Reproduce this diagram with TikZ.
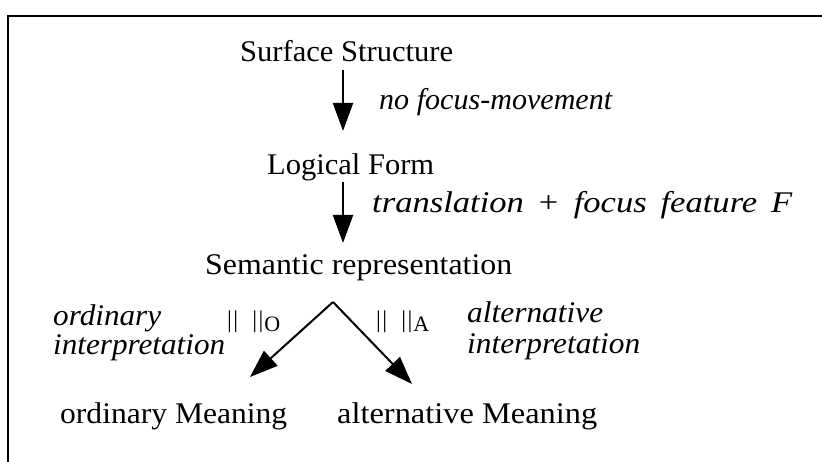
\documentclass[tikz,border=0pt]{standalone}
\usepackage{fontspec}
\setmainfont{Liberation Serif}
\usetikzlibrary{arrows.meta}
\tikzset{
  lbl/.style={inner sep=0pt, anchor=base west, font=\fontsize{30}{36}\selectfont},
  ilbl/.style={inner sep=0pt, anchor=base west, font=\fontsize{30}{36}\selectfont\itshape},
  nrm/.style={inner sep=0pt, anchor=base west, font=\fontsize{24}{28}\selectfont},
  arr/.style={line width=2pt, -{Triangle[width=20pt,length=28pt]}},
  frame/.style={line width=2pt}
}
\newcommand{\hfit}[2]{\resizebox{#1}{\height}{#2}}
\newcommand{\normbar}[1]{|\hspace{1.5pt}|\hspace{14pt}|\hspace{1.5pt}|\hspace{1pt}\raisebox{-5pt}{\fontsize{22}{26}\selectfont #1}}
\begin{document}
\begin{tikzpicture}[x=1pt,y=-1pt]
\useasboundingbox (0,0) rectangle (822,462);
\draw[frame] (8,462) -- (8,16) -- (822,16);
\node[lbl] (ss) at (240,62) {\hfit{213pt}{Surface Structure}};
\node[lbl] (lf) at (267,175) {\hfit{167pt}{Logical Form}};
\node[lbl] (sr) at (205,275) {\hfit{307pt}{Semantic representation}};
\node[lbl] (om) at (60,423) {\hfit{227pt}{ordinary Meaning}};
\node[lbl] (am) at (337,423) {\hfit{260pt}{alternative Meaning}};
\node[ilbl] (l1) at (379,110) {\hfit{233pt}{no focus-movement}};
\node[ilbl] (l2) at (372,213) {\hfit{420pt}{translation\hspace{11pt}+\hspace{12pt}focus\hspace{12pt}feature\hspace{12pt}F}};
\node[ilbl] (l3a) at (53,325) {\hfit{108pt}{ordinary}};
\node[ilbl] (l3b) at (53,355) {\hfit{172pt}{interpretation}};
\node[ilbl] (l4a) at (467,323) {\hfit{136pt}{alternative}};
\node[ilbl] (l4b) at (467,353) {\hfit{173pt}{interpretation}};
\node[nrm] (n1) at (227,327) {\normbar{O}};
\node[nrm] (n2) at (376,327) {\normbar{A}};
\coordinate (a1s) at (343,70);
\coordinate (a1e) at (343,131);
\coordinate (a2s) at (343,182);
\coordinate (a2e) at (343,243);
\coordinate (fk) at (333,302);
\coordinate (ot) at (250,377);
\coordinate (at) at (412,384);
\draw[arr] (a1s) -- (a1e);
\draw[arr] (a2s) -- (a2e);
\draw[arr] (fk) -- (ot);
\draw[arr] (fk) -- (at);
\end{tikzpicture}
\end{document}
